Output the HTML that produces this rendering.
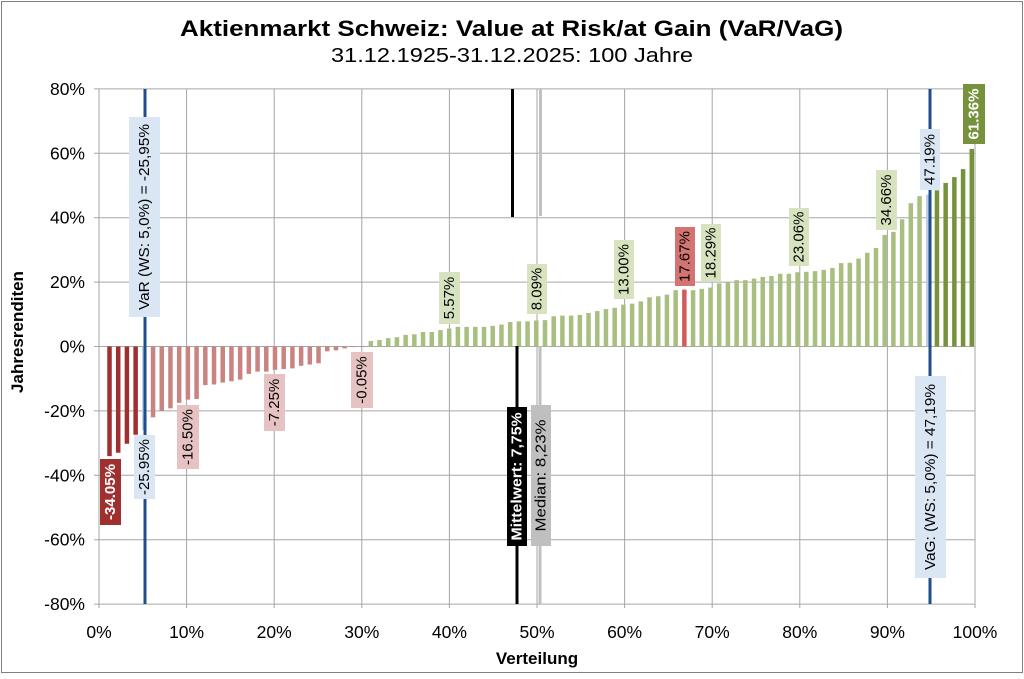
<!DOCTYPE html>
<html><head><meta charset="utf-8"><style>
body{margin:0;background:#fff}
svg text{font-family:"Liberation Sans",sans-serif}
</style></head><body>
<svg id="c" width="1024" height="674" xmlns="http://www.w3.org/2000/svg">
<rect x="1.5" y="1.5" width="1021" height="671" fill="#fff" stroke="#808080" stroke-width="1"/>
<text x="180" y="36" font-size="22" font-weight="bold" textLength="663" lengthAdjust="spacingAndGlyphs">Aktienmarkt Schweiz: Value at Risk/at Gain (VaR/VaG)</text>
<text x="331" y="62" font-size="20" textLength="362" lengthAdjust="spacingAndGlyphs">31.12.1925-31.12.2025:  100 Jahre</text>
<g id="grid" stroke="#a6a6a6" stroke-width="1"></g>
<g id="bars"></g>
<g id="ov"></g>
</svg>
<script>
const NS="http://www.w3.org/2000/svg";
function el(p,t,a,txt){const e=document.createElementNS(NS,t);for(const k in a)e.setAttribute(k,a[k]);if(txt!==undefined)e.textContent=txt;p.appendChild(e);return e;}
const svg=document.getElementById('c'),grid=document.getElementById('grid'),bars=document.getElementById('bars'),ov=document.getElementById('ov');
const X0=99,X1=975,Y0=346.5,S=3.22;
for(let i=0;i<=10;i++){const x=X0+i*(X1-X0)/10;el(grid,'line',{x1:x,x2:x,y1:89,y2:608});
 el(svg,'text',{x:x,y:638,'text-anchor':'middle','font-size':'17.5'},(i*10)+'%');}
for(let j=0;j<=8;j++){const v=80-j*20,y=Y0-v*S;el(grid,'line',{x1:94,x2:X1,y1:y,y2:y});
 el(svg,'text',{x:85,y:y+6,'text-anchor':'end','font-size':'17.5'},v+'%');}
el(svg,'text',{x:537,y:664,'text-anchor':'middle','font-size':'17','font-weight':'bold'},'Verteilung');
el(svg,'text',{x:0,y:0,'text-anchor':'middle','font-size':'17','font-weight':'bold',transform:'translate(23,332) rotate(-90)'},'Jahresrenditen');
const v=[-34.05,-33.0,-30.2,-27.4,-25.95,-22.0,-20.0,-19.2,-17.5,-16.5,-16.3,-12.0,-11.8,-11.2,-10.8,-10.3,-8.5,-7.8,-7.8,-7.25,-7.0,-6.8,-6.0,-5.6,-5.2,-1.5,-1.2,-0.6,-0.2,-0.05,
1.7,2.0,2.6,2.9,3.6,3.8,4.5,4.5,5.1,5.57,6.1,6.1,6.1,6.1,6.4,6.8,7.6,7.8,7.8,8.09,8.2,9.4,9.6,9.6,9.8,10.4,11.0,11.6,12.0,13.0,
13.3,14.0,15.3,15.6,16.1,17.5,17.67,17.5,17.9,18.29,19.6,20.0,20.6,20.6,21.1,21.6,21.9,22.6,22.6,23.06,23.2,23.4,23.8,24.4,25.9,26.0,27.3,29.1,30.6,34.66,
35.6,39.5,44.5,46.7,47.19,48.5,50.8,52.6,55.1,61.36];
v.forEach((val,k)=>{const i=k+1;const x=107.25+(i-1)*8.71;let c;
 if(i<=4)c='#a0302f';else if(i==5||i==95)c='#b9cfe7';else if(i<=30)c='#c98482';else if(i==67)c='#d05c5c';else if(i<=94)c='#a8bf80';else c='#76923c';
 const h=Math.abs(val)*S;el(bars,'rect',{x:x,y:val>=0?Y0-h:Y0,width:4.5,height:Math.max(h,0.6),fill:c});});
el(ov,'line',{x1:145,x2:145,y1:89,y2:604,stroke:'#1f4e8c','stroke-width':3});
el(ov,'line',{x1:930,x2:930,y1:89,y2:604,stroke:'#1f4e8c','stroke-width':3});
el(ov,'line',{x1:512.5,x2:512.5,y1:89,y2:217,stroke:'#000','stroke-width':3});
el(ov,'line',{x1:517,x2:517,y1:346,y2:604,stroke:'#000','stroke-width':3});
el(ov,'line',{x1:540.5,x2:540.5,y1:89,y2:216,stroke:'#c0c0c0','stroke-width':3});
el(ov,'line',{x1:540,x2:540,y1:346,y2:604,stroke:'#c0c0c0','stroke-width':3});
function lab(x1,y1,x2,y2,fill,col,txt,fs,bold,tl){el(ov,'rect',{x:x1,y:y1,width:x2-x1,height:y2-y1,fill:fill});
 const cx=(x1+x2)/2,cy=(y1+y2)/2;const a={x:0,y:0,'text-anchor':'middle','dominant-baseline':'central',fill:col,'font-size':fs||15,'font-weight':bold?'bold':'normal',transform:`translate(${cx},${cy}) rotate(-90)`};
 if(tl){a.textLength=tl;a.lengthAdjust='spacingAndGlyphs';}
 el(ov,'text',a,txt);}
lab(100,459,121,525,'#a0302f','#fff','-34.05%',15,true);
lab(134,435,155,499,'#dae6f3','#000','-25.95%');
lab(177,405,199,469,'#e6c3c2','#000','-16.50%');
lab(264,374,285,431,'#e6c3c2','#000','-7.25%');
lab(351,352,373,408,'#e6c3c2','#000','-0.05%');
lab(439,272,460,324,'#d7e3bf','#000','5.57%');
lab(527,264,547,314,'#d7e3bf','#000','8.09%');
lab(614,240,634,299,'#d7e3bf','#000','13.00%');
lab(675,227,695,286,'#d47472','#000','17.67%');
lab(701,224,721,282,'#d7e3bf','#000','18.29%');
lab(789,208,809,266,'#d7e3bf','#000','23.06%');
lab(876,170,897,230,'#d7e3bf','#000','34.66%');
lab(920,129,940,190,'#dae6f3','#000','47.19%');
lab(963,84,985,144,'#76923c','#fff','61.36%',15,true);
lab(129,117,160,317,'#dae6f3','#000','VaR (WS: 5,0%) = -25,95%',15,false,186);
lab(915,376,946,578,'#dae6f3','#000','VaG: (WS: 5,0%) = 47,19%',15,false,186);
lab(507,407,527,546,'#000','#fff','Mittelwert: 7,75%',15,true,128);
lab(531,405,551,546,'#bfbfbf','#000','Median: 8,23%',15,false,112);
</script>
</body></html>
